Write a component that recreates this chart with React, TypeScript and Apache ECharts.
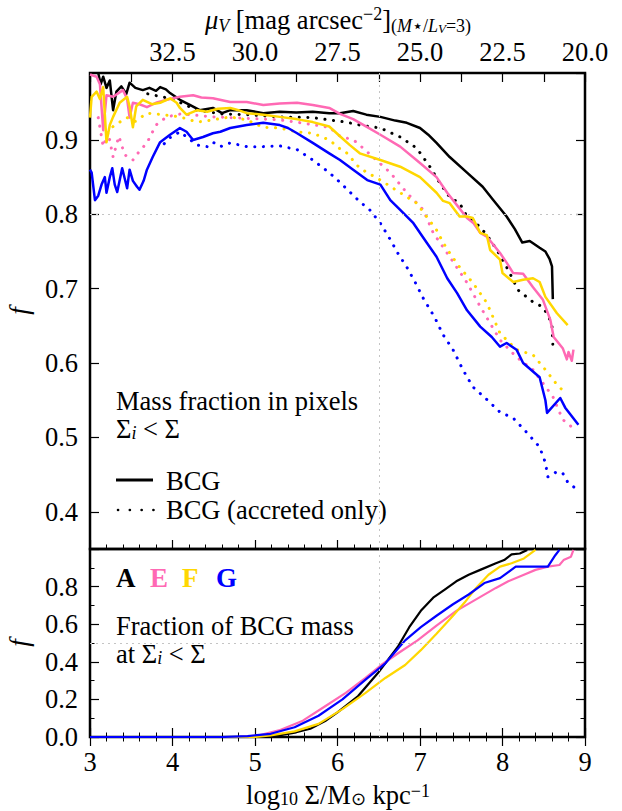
import React, { useEffect, useRef } from "react";
import * as echarts from "echarts";

const FONT = "Liberation Serif";

const C_A = "#000000";
const C_E = "#ff69b4";
const C_F = "#ffd700";
const C_G = "#0000ff";

// top (mu_V) axis tick labels placed at log10 Sigma positions
const muTickPositions = [4, 5, 6, 7, 8, 9];
const muTickLabels = ["32.5", "30.0", "27.5", "25.0", "22.5", "20.0"];

const refX = 6.5;
const refYTop = 0.8;
const refYBottom = 0.5;

// ---- top panel: mass fraction in pixels with Sigma_i < Sigma
const topA: number[][] = [[3.1,0.99],[3.13,0.975],[3.16,0.985],[3.2,0.97],[3.24,0.98],[3.28,0.94],[3.32,0.965],[3.38,0.972],[3.44,0.962],[3.48,0.977],[3.55,0.97],[3.64,0.967],[3.72,0.97],[3.8,0.966],[3.85,0.971],[3.92,0.968],[3.97,0.963],[4.09,0.954],[4.21,0.947],[4.33,0.94],[4.49,0.943],[4.6,0.936],[4.7,0.94],[4.9,0.94],[5.1,0.936],[5.3,0.938],[5.5,0.937],[5.7,0.938],[5.9,0.936],[6.03,0.936],[6.19,0.939],[6.35,0.934],[6.52,0.931],[6.7,0.926],[6.84,0.923],[7.0,0.916],[7.1,0.907],[7.2,0.896],[7.36,0.877],[7.57,0.856],[7.76,0.837],[7.89,0.819],[8.05,0.797],[8.15,0.78],[8.24,0.762],[8.33,0.764],[8.45,0.755],[8.52,0.75],[8.57,0.74],[8.6,0.73],[8.61,0.686]];
const topAacc: number[][] = [[3.7,0.962],[4.0,0.955],[4.3,0.94],[4.6,0.935],[4.9,0.934],[5.3,0.931],[5.7,0.93],[6.1,0.924],[6.27,0.92],[6.52,0.916],[6.76,0.904],[6.96,0.889],[7.12,0.864],[7.24,0.842],[7.36,0.823],[7.48,0.815],[7.57,0.797],[7.73,0.783],[7.85,0.766],[7.97,0.745],[8.07,0.725],[8.19,0.698],[8.37,0.682],[8.48,0.676],[8.55,0.665],[8.6,0.651],[8.61,0.624]];
const topE: number[][] = [[3.0,0.988],[3.08,0.985],[3.12,0.975],[3.16,0.913],[3.2,0.96],[3.28,0.958],[3.4,0.967],[3.45,0.955],[3.48,0.93],[3.52,0.95],[3.6,0.948],[3.69,0.944],[3.8,0.95],[3.93,0.954],[4.09,0.958],[4.25,0.96],[4.35,0.957],[4.49,0.956],[4.7,0.951],[4.9,0.951],[5.1,0.947],[5.3,0.949],[5.51,0.95],[5.7,0.947],[5.9,0.943],[6.03,0.935],[6.19,0.928],[6.35,0.918],[6.52,0.907],[6.76,0.891],[7.0,0.869],[7.2,0.85],[7.33,0.829],[7.45,0.812],[7.57,0.795],[7.65,0.788],[7.73,0.775],[7.81,0.77],[7.97,0.748],[8.05,0.735],[8.13,0.721],[8.25,0.72],[8.37,0.702],[8.49,0.685],[8.58,0.658],[8.62,0.635],[8.73,0.62],[8.78,0.605],[8.8,0.615],[8.84,0.603],[8.86,0.618]];
const topEacc: number[][] = [[3.1,0.93],[3.16,0.891],[3.22,0.91],[3.28,0.877],[3.35,0.905],[3.42,0.88],[3.52,0.873],[3.6,0.885],[3.69,0.896],[3.8,0.92],[3.93,0.931],[4.1,0.935],[4.3,0.933],[4.49,0.931],[4.9,0.929],[5.3,0.927],[5.5,0.924],[5.9,0.917],[6.03,0.905],[6.19,0.9],[6.24,0.896],[6.43,0.877],[6.64,0.856],[6.84,0.829],[7.04,0.806],[7.16,0.775],[7.36,0.743],[7.57,0.708],[7.73,0.676],[7.97,0.631],[8.17,0.608],[8.37,0.591],[8.61,0.555],[8.73,0.524],[8.84,0.514]];
const topF: number[][] = [[3.0,0.93],[3.02,0.958],[3.08,0.965],[3.12,0.955],[3.16,0.971],[3.2,0.897],[3.24,0.92],[3.28,0.931],[3.36,0.95],[3.45,0.958],[3.48,0.945],[3.52,0.917],[3.56,0.945],[3.64,0.954],[3.75,0.948],[3.85,0.95],[3.97,0.956],[4.05,0.95],[4.09,0.943],[4.17,0.934],[4.3,0.94],[4.42,0.938],[4.55,0.942],[4.7,0.943],[4.8,0.94],[4.9,0.936],[5.1,0.934],[5.3,0.931],[5.5,0.928],[5.7,0.924],[5.9,0.918],[6.03,0.905],[6.15,0.893],[6.27,0.882],[6.52,0.873],[6.76,0.864],[7.0,0.85],[7.2,0.829],[7.28,0.818],[7.36,0.815],[7.48,0.797],[7.57,0.797],[7.64,0.795],[7.73,0.775],[7.81,0.772],[7.85,0.752],[7.97,0.739],[8.0,0.721],[8.13,0.709],[8.25,0.712],[8.37,0.714],[8.45,0.709],[8.52,0.689],[8.66,0.667],[8.79,0.651]];
const topFacc: number[][] = [[3.2,0.91],[3.3,0.92],[3.45,0.93],[3.55,0.925],[3.69,0.936],[3.88,0.934],[4.09,0.931],[4.3,0.924],[4.49,0.927],[4.7,0.931],[4.9,0.927],[5.1,0.917],[5.3,0.916],[5.5,0.911],[5.7,0.909],[5.9,0.9],[6.03,0.888],[6.1,0.884],[6.27,0.862],[6.52,0.846],[6.76,0.829],[6.96,0.815],[7.08,0.797],[7.2,0.779],[7.28,0.762],[7.36,0.748],[7.48,0.729],[7.64,0.708],[7.81,0.681],[7.97,0.64],[8.17,0.618],[8.37,0.611],[8.52,0.591],[8.66,0.571],[8.76,0.56]];
const topG: number[][] = [[3.0,0.86],[3.02,0.856],[3.06,0.819],[3.1,0.825],[3.14,0.84],[3.18,0.85],[3.2,0.829],[3.24,0.85],[3.27,0.862],[3.3,0.84],[3.33,0.83],[3.39,0.862],[3.45,0.835],[3.48,0.86],[3.52,0.845],[3.57,0.837],[3.6,0.833],[3.65,0.845],[3.69,0.86],[3.76,0.877],[3.85,0.897],[3.97,0.907],[4.09,0.916],[4.17,0.911],[4.25,0.9],[4.37,0.904],[4.49,0.909],[4.58,0.911],[4.7,0.916],[4.9,0.92],[5.1,0.923],[5.3,0.92],[5.4,0.916],[5.51,0.909],[5.7,0.896],[5.9,0.882],[6.03,0.873],[6.19,0.86],[6.36,0.846],[6.52,0.84],[6.64,0.819],[6.76,0.806],[6.92,0.788],[7.08,0.762],[7.2,0.743],[7.33,0.714],[7.45,0.694],[7.57,0.671],[7.73,0.649],[7.87,0.635],[7.97,0.622],[8.05,0.627],[8.17,0.618],[8.25,0.6],[8.45,0.581],[8.52,0.55],[8.54,0.533],[8.7,0.553],[8.76,0.54],[8.92,0.517]];
const topGacc: number[][] = [[3.9,0.895],[3.97,0.903],[4.09,0.911],[4.17,0.904],[4.3,0.893],[4.42,0.891],[4.49,0.897],[4.58,0.891],[4.7,0.896],[4.9,0.891],[5.1,0.891],[5.3,0.892],[5.51,0.887],[5.7,0.873],[5.9,0.856],[6.03,0.843],[6.15,0.83],[6.27,0.817],[6.39,0.806],[6.52,0.788],[6.64,0.766],[6.73,0.748],[6.84,0.729],[6.94,0.709],[7.04,0.687],[7.18,0.661],[7.28,0.638],[7.4,0.618],[7.52,0.591],[7.64,0.568],[7.81,0.551],[7.97,0.534],[8.13,0.526],[8.3,0.506],[8.45,0.487],[8.52,0.466],[8.55,0.447],[8.66,0.454],[8.73,0.452],[8.79,0.44],[8.89,0.431]];

// ---- bottom panel: fraction of BCG mass at Sigma_i < Sigma
const botA: number[][] = [[3,0],[5.0,0],[5.29,0.009],[5.5,0.025],[5.67,0.044],[5.85,0.085],[6.0,0.131],[6.25,0.218],[6.49,0.34],[6.73,0.479],[6.87,0.584],[7.01,0.671],[7.16,0.741],[7.3,0.784],[7.44,0.828],[7.59,0.863],[7.73,0.889],[7.92,0.924],[8.02,0.941],[8.11,0.971],[8.21,0.976],[8.3,0.995]];
const botE: number[][] = [[3,0],[4.8,0],[5.05,0.009],[5.29,0.035],[5.58,0.087],[5.86,0.166],[6.1,0.235],[6.34,0.314],[6.53,0.383],[6.73,0.444],[6.97,0.514],[7.2,0.593],[7.44,0.671],[7.68,0.732],[7.92,0.793],[8.07,0.828],[8.26,0.863],[8.4,0.889],[8.55,0.906],[8.69,0.915],[8.74,0.941],[8.83,0.959],[8.86,0.995]];
const botF: number[][] = [[3,0],[5.0,0],[5.19,0.009],[5.48,0.03],[5.77,0.07],[6.06,0.148],[6.34,0.235],[6.58,0.314],[6.82,0.383],[7.01,0.462],[7.2,0.549],[7.4,0.645],[7.54,0.715],[7.68,0.793],[7.83,0.863],[7.97,0.906],[8.11,0.924],[8.26,0.95],[8.4,0.995]];
const botG: number[][] = [[3,0],[4.6,0],[4.91,0.005],[5.19,0.017],[5.48,0.052],[5.77,0.113],[6.06,0.2],[6.34,0.305],[6.58,0.392],[6.82,0.514],[7.01,0.584],[7.2,0.645],[7.4,0.706],[7.59,0.758],[7.78,0.819],[7.97,0.845],[8.16,0.906],[8.4,0.906],[8.55,0.906],[8.64,0.967],[8.69,0.995]];

const clusterLabels = ["A", "E", "F", "G"];
const clusterColors = [C_A, C_E, C_F, C_G];

const FS = 26.5;
const tickStyle = { show: true, inside: true, length: 9, lineStyle: { color: "#000", width: 1.2 } };
const minorStyle = (n: number) => ({ show: true, splitNumber: n, length: 4.5, lineStyle: { color: "#000", width: 1 } });
const labelBase = { fontFamily: FONT, fontSize: FS, color: "#000" };

function lineSeries(name: string, data: number[][], color: string, dotted: boolean, xi: number, yi: number, width: number, extra: any = {}) {
  return {
    type: "line",
    name,
    data,
    xAxisIndex: xi,
    yAxisIndex: yi,
    symbol: "none",
    showSymbol: false,
    clip: true,
    silent: true,
    lineStyle: dotted
      ? { color, width: 3, type: [0.1, 8.5], cap: "round", join: "round" }
      : { color, width, type: "solid", join: "round" },
    itemStyle: { color },
    ...extra,
  };
}

function refLines(data: any[]) {
  return {
    markLine: {
      silent: true,
      symbol: ["none", "none"],
      label: { show: false },
      lineStyle: { color: "#c4c4c4", type: [2, 4], width: 1 },
      data,
    },
  };
}

export default function App() {
  const ref = useRef<HTMLDivElement>(null);
  useEffect(() => {
    document.body.style.margin = "0";
    if (!ref.current) return;
    const chart = echarts.init(ref.current, undefined, { renderer: "svg" });

    const nRich = { fontFamily: FONT, fontSize: FS, lineHeight: 30, verticalAlign: "middle", color: "#000" };
    const sRich = { fontFamily: FONT, fontSize: 18, lineHeight: 16, verticalAlign: "bottom", color: "#000" };
    const pRich = { fontFamily: FONT, fontSize: 18, lineHeight: 14, verticalAlign: "top", color: "#000" };
    const nTight = { ...nRich, lineHeight: 26 };
    const sTight = { ...sRich, lineHeight: 14, fontStyle: "italic" };
    const yName = (y: number) => ({
      type: "text", x: 19, y, rotation: Math.PI / 2,
      style: { text: "f", fontFamily: FONT, fontSize: 27, fontStyle: "italic", fill: "#000", align: "center", verticalAlign: "middle" },
    });

    const option: any = {
      animation: false,
      backgroundColor: "#fff",
      textStyle: { fontFamily: FONT },
      grid: [
        { left: 90, top: 73, width: 495, height: 476, show: true, borderColor: "#000", borderWidth: 2.5, backgroundColor: "transparent", containLabel: false, outerBoundsMode: "none" },
        { left: 90, top: 549, width: 495, height: 188, show: true, borderColor: "#000", borderWidth: 2.5, backgroundColor: "transparent", containLabel: false, outerBoundsMode: "none" },
      ],
      xAxis: [
        { type: "value", gridIndex: 0, position: "bottom", min: 3, max: 9, interval: 1, axisLine: { show: false }, axisTick: tickStyle, minorTick: minorStyle(5), axisLabel: { show: false }, splitLine: { show: false } },
        {
          type: "value", gridIndex: 0, position: "top", min: 3, max: 9, interval: 0.5,
          axisLine: { show: false }, axisTick: tickStyle, splitLine: { show: false },
          axisLabel: {
            ...labelBase, margin: 8,
            formatter: (v: number) => {
              const i = muTickPositions.findIndex((p) => Math.abs(p - v) < 1e-6);
              return i >= 0 ? muTickLabels[i] : "";
            },
          },
        },
        { type: "value", gridIndex: 1, position: "bottom", min: 3, max: 9, interval: 1, axisLine: { show: false }, axisTick: tickStyle, minorTick: minorStyle(5), splitLine: { show: false }, axisLabel: { ...labelBase, margin: 11 } },
        { type: "value", gridIndex: 1, position: "top", min: 3, max: 9, interval: 1, axisLine: { show: false }, axisTick: tickStyle, minorTick: minorStyle(5), axisLabel: { show: false }, splitLine: { show: false } },
      ],
      yAxis: [
        {
          type: "value", gridIndex: 0, position: "left", min: 0.35, max: 0.99,
          axisLine: { show: false }, axisTick: tickStyle, splitLine: { show: false },
          axisLabel: { ...labelBase, margin: 12, showMinLabel: false, showMaxLabel: false, formatter: (v: number) => v.toFixed(1) },
        },
        { type: "value", gridIndex: 0, position: "right", min: 0.35, max: 0.99, axisLine: { show: false }, axisTick: tickStyle, axisLabel: { show: false }, splitLine: { show: false } },
        {
          type: "value", gridIndex: 1, position: "left", min: 0, max: 1.0, interval: 0.2,
          axisLine: { show: false }, axisTick: tickStyle, minorTick: minorStyle(2), splitLine: { show: false },
          axisLabel: { ...labelBase, margin: 12, showMaxLabel: false, formatter: (v: number) => v.toFixed(1) },
        },
        { type: "value", gridIndex: 1, position: "right", min: 0, max: 1.0, interval: 0.2, axisLine: { show: false }, axisTick: tickStyle, minorTick: minorStyle(2), axisLabel: { show: false }, splitLine: { show: false } },
      ],
      series: [
        lineSeries("A", topA, C_A, false, 0, 0, 2.5, refLines([{ xAxis: refX }, { yAxis: refYTop }])),
        lineSeries("A acc", topAacc, C_A, true, 0, 0, 2.5),
        lineSeries("E", topE, C_E, false, 0, 0, 2.5),
        lineSeries("E acc", topEacc, C_E, true, 0, 0, 2.5),
        lineSeries("F", topF, C_F, false, 0, 0, 2.5),
        lineSeries("F acc", topFacc, C_F, true, 0, 0, 2.5),
        lineSeries("G", topG, C_G, false, 0, 0, 2.5),
        lineSeries("G acc", topGacc, C_G, true, 0, 0, 2.5),
        lineSeries("A frac", botA, C_A, false, 2, 2, 2.2, refLines([{ xAxis: refX }, { yAxis: refYBottom }])),
        lineSeries("E frac", botE, C_E, false, 2, 2, 2.2),
        lineSeries("F frac", botF, C_F, false, 2, 2, 2.2),
        lineSeries("G frac", botG, C_G, false, 2, 2, 2.2),
      ],
      graphic: [
        yName(311),
        yName(643),
        {
          type: "text", x: 338, y: 20,
          style: {
            text: "{i|μ}{is|V}{n| [mag arcsec}{p|−2}{n|]}{s|(}{si|M}{s|⋆/}{si|L}{ss|V}{s|=3)}",
            align: "center", verticalAlign: "middle",
            rich: {
              i: { ...nRich, fontStyle: "italic" },
              is: { ...sRich, fontStyle: "italic" },
              n: nRich,
              p: pRich,
              s: { ...sRich, fontSize: 18, lineHeight: 12 },
              si: { ...sRich, fontSize: 18, lineHeight: 12, fontStyle: "italic" },
              ss: { ...sRich, fontSize: 13, lineHeight: 6, fontStyle: "italic" },
            },
          },
        },
        {
          type: "text", x: 338, y: 795,
          style: {
            text: "{n|log}{s|10}{n| Σ/M}{s|⊙}{n| kpc}{p|−1}",
            align: "center", verticalAlign: "middle",
            rich: { n: nTight, s: { ...sRich, lineHeight: 14 }, p: { ...pRich, lineHeight: 12 } },
          },
        },
        { type: "text", x: 116, y: 401, style: { text: "Mass fraction in pixels", fontFamily: FONT, fontSize: FS, fill: "#000", verticalAlign: "middle" } },
        { type: "text", x: 116, y: 429, style: { text: "{n|Σ}{s|i}{n| < Σ}", verticalAlign: "middle", rich: { n: nTight, s: sTight } } },
        { type: "line", shape: { x1: 116, y1: 480, x2: 153, y2: 480 }, style: { stroke: "#000", lineWidth: 3 } },
        { type: "text", x: 166, y: 481, style: { text: "BCG", fontFamily: FONT, fontSize: FS, fill: "#000", verticalAlign: "middle" } },
        { type: "line", shape: { x1: 118, y1: 510, x2: 154, y2: 510 }, style: { stroke: "#000", lineWidth: 2.6, lineDash: [0.1, 11.7], lineCap: "round" } },
        { type: "text", x: 166, y: 510, style: { text: "BCG (accreted only)", fontFamily: FONT, fontSize: FS, fill: "#000", verticalAlign: "middle" } },
        ...clusterLabels.map((lab, i) => ({
          type: "text", x: [116, 150, 182, 216][i], y: 578,
          style: { text: lab, fontFamily: FONT, fontSize: 27, fontWeight: "bold", fill: clusterColors[i], verticalAlign: "middle" },
        })),
        { type: "text", x: 116, y: 626, style: { text: "Fraction of BCG mass", fontFamily: FONT, fontSize: FS, fill: "#000", verticalAlign: "middle" } },
        { type: "text", x: 116, y: 654, style: { text: "{n|at Σ}{s|i}{n| < Σ}", verticalAlign: "middle", rich: { n: nTight, s: sTight } } },
      ],
    };
    chart.setOption(option);
    return () => chart.dispose();
  }, []);
  return <div ref={ref} style={{ width: 622, height: 811 }} />;
}
